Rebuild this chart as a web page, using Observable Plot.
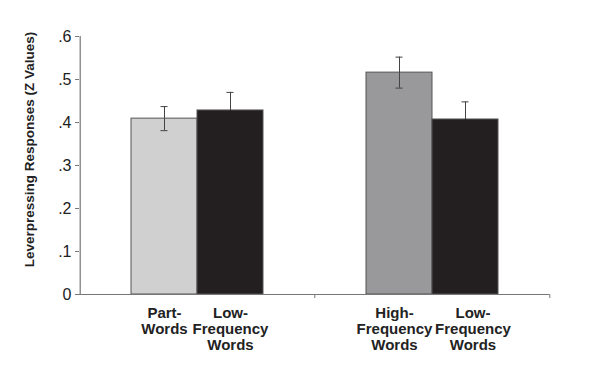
<!DOCTYPE html>
<html>
<head>
<meta charset="utf-8">
<script src="https://cdn.jsdelivr.net/npm/d3@7"></script>
<script src="https://cdn.jsdelivr.net/npm/@observablehq/plot@0.6"></script>
<style>
  html, body { margin: 0; padding: 0; background: #fff; }
</style>
</head>
<body>
<div id="chart"></div>
<script>
// Data
const groups = ["A", "A", "B", "B"];
const slots = ["L", "R", "L", "R"];
const labels = ["Part-\nWords", "Low-\nFrequency\nWords", "High-\nFrequency\nWords", "Low-\nFrequency\nWords"];
const values = [0.409, 0.428, 0.516, 0.407];
const errors = [0.028, 0.042, 0.036, 0.041];
const fills = ["#d0d0d0", "#231f20", "#99999b", "#231f20"];
const lowerWhisker = ["#444", "#231f20", "#444", "#231f20"];
const yTicks = [0, 0.1, 0.2, 0.3, 0.4, 0.5, 0.6];
const yTitle = "Leverpressing Responses (Z Values)";

const data = values.map((v, i) => ({
  group: groups[i], slot: slots[i], label: labels[i],
  value: v, lo: v - errors[i], hi: v + errors[i], fill: fills[i], lw: lowerWhisker[i]
}));

const fmt = d => d === 0 ? "0" : d3.format(".1f")(d).replace(/^0/, "");
const edge = 84.3; // offset from a slot's centre to the facet edge (px)

const labelStyle = {fx: "group", x: "slot", y: () => 0, text: "label", lineAnchor: "top", dy: 12,
  fontWeight: "bold", fontSize: 15, lineHeight: 1.07, fill: "#222"};

const chart = Plot.plot({
  width: 600,
  height: 365,
  marginLeft: 78,
  marginRight: 51,
  marginTop: 36,
  marginBottom: 71,
  style: {fontFamily: "'Liberation Sans', Arial, sans-serif", fontSize: "15px", color: "#222", background: "#fff"},
  fx: {domain: ["A", "B"], padding: 0, axis: null, label: null},
  x: {domain: ["L", "R"], paddingInner: 0, paddingOuter: 0.76, axis: null, label: null},
  y: {domain: [0, 0.6], axis: null, label: null},
  marks: [
    Plot.axisY({ticks: yTicks, tickFormat: fmt, tickSize: 4, tickPadding: 4, stroke: "#777", fill: "#222", fontSize: 16, label: null}),
    Plot.ruleX(["A"], {fx: d => d, x: () => "L", y1: 0, y2: 0.6, dx: -edge, stroke: "#777", strokeWidth: 1.2}),
    Plot.barY(data, {fx: "group", x: "slot", y: "value", fill: "fill", stroke: "#555", strokeWidth: 1}),
    Plot.ruleX(data, {fx: "group", x: "slot", y1: "value", y2: "hi", stroke: "#444", strokeWidth: 1}),
    Plot.ruleX(data, {fx: "group", x: "slot", y1: "lo", y2: "value", stroke: "lw", strokeWidth: 1}),
    Plot.tickY(data, {fx: "group", x: "slot", y: "hi", stroke: "#444", strokeWidth: 1, insetLeft: 29.5, insetRight: 29.5}),
    Plot.tickY(data, {fx: "group", x: "slot", y: "lo", stroke: "lw", strokeWidth: 1, insetLeft: 29.5, insetRight: 29.5}),
    Plot.ruleY(["A", "B"], {fx: d => d, y: () => 0, stroke: "#777", strokeWidth: 1.2}),
    Plot.ruleX(["A", "B"], {fx: d => d, x: () => "R", y1: 0, y2: 0, dx: edge, insetBottom: -4, stroke: "#777", strokeWidth: 1}),
    Plot.text(data.filter(d => d.group === "A"), labelStyle),
    Plot.text(data.filter(d => d.group === "B" && d.slot === "L"), {...labelStyle, dx: -5}),
    Plot.text(data.filter(d => d.group === "B" && d.slot === "R"), {...labelStyle, dx: 7.5}),
    Plot.text([yTitle], {fx: () => "A", frameAnchor: "left", textAnchor: "middle", rotate: -90, dx: -50, dy: -16,
      fontWeight: "bold", fontSize: 13.5, fill: "#222"})
  ]
});
document.getElementById("chart").appendChild(chart);
</script>
</body>
</html>
